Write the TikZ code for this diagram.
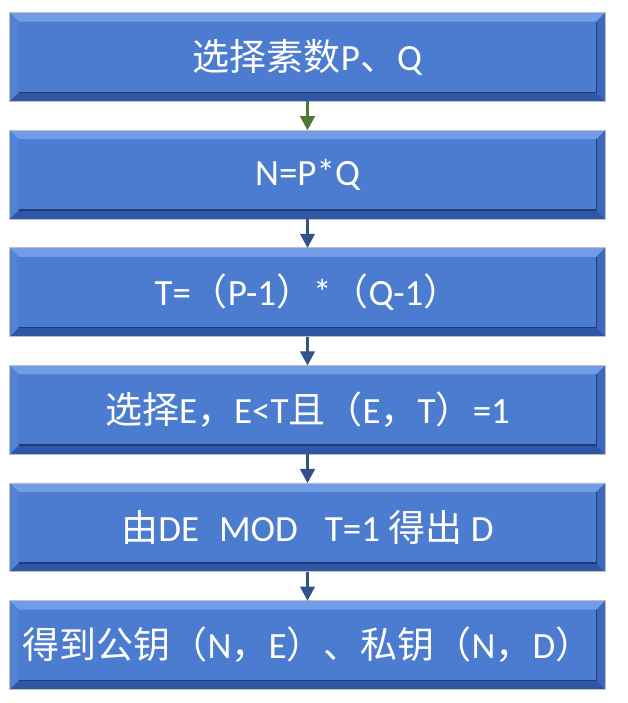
\documentclass[tikz,border=0pt]{standalone}
\usepackage{fontspec}
\setmainfont{Carlito}
\newfontfamily\cjk{Noto Sans CJK SC}
\usetikzlibrary{arrows.meta}
\newcommand{\zh}[1]{{\cjk #1}}

\definecolor{boxblue}{RGB}{76,124,208}
\definecolor{boxtop}{RGB}{112,156,232}
\definecolor{boxbottom}{RGB}{48,86,166}
\definecolor{boxleft}{RGB}{82,130,212}
\definecolor{boxright}{RGB}{62,104,188}
\definecolor{boxshade}{RGB}{34,58,118}
\definecolor{arrowgreen}{RGB}{112,173,71}
\definecolor{arrowblue}{RGB}{78,126,210}

\tikzset{stepbox/.style={minimum width=595pt, minimum height=88pt, inner sep=0pt,
    fill=boxblue, draw=black!25, line width=0.8pt, text=white,
    font=\fontsize{37}{40}\selectfont},
  flow/.style={line width=2.5pt, -{Triangle[width=15pt,length=14pt,line width=1pt]}}}

\begin{document}
\begin{tikzpicture}[x=1pt,y=1pt]

\useasboundingbox (0,0) rectangle (627,703);

\node[stepbox] (s1) at (307.5,646.0) {\zh{选择素数}P\zh{、}Q};
\node[stepbox] (s2) at (307.5,528.4) {N=P*Q};
\node[stepbox] (s3) at (307.5,410.8) {T=\zh{（}P-1\zh{）}*\zh{（}Q-1\zh{）}};
\node[stepbox] (s4) at (307.5,293.2) {\zh{选择}E\zh{，}E<T\zh{且（}E\zh{，}T\zh{）}=1};
\node[stepbox] (s5) at (307.5,175.6) {\zh{由}DE\hspace{20pt}MOD\hspace{27pt}T=1 \zh{得出} D};
\node[stepbox] (s6) at (307.5,58.0) {\zh{得到公钥（}N\zh{，}E\zh{）、私钥（}N\zh{，}D\zh{）}\hspace{12pt}};

% bevelled edges
\foreach \s in {s1,s2,s3,s4,s5,s6} {
    \fill[boxtop] (\s.north west) -- (\s.north east) -- ([shift={(-9,-9)}]\s.north east) -- ([shift={(9,-9)}]\s.north west) -- cycle;
    \fill[boxbottom] (\s.south west) -- (\s.south east) -- ([shift={(-9,9)}]\s.south east) -- ([shift={(9,9)}]\s.south west) -- cycle;
    \fill[boxleft] (\s.north west) -- ([shift={(9,-9)}]\s.north west) -- ([shift={(9,9)}]\s.south west) -- (\s.south west) -- cycle;
    \fill[boxright] (\s.north east) -- ([shift={(-9,-9)}]\s.north east) -- ([shift={(-9,9)}]\s.south east) -- (\s.south east) -- cycle;
    \draw[boxshade, line width=1.6pt] ([shift={(-9,-9)}]\s.north east) -- ([shift={(-9,9)}]\s.south east) -- ([shift={(9,9)}]\s.south west);
    \draw[black!25, line width=0.8pt] (\s.north west) rectangle (\s.south east);
}

\draw[flow, draw=arrowgreen!70!black, fill=arrowgreen] (s1.south) -- (s2.north);
\foreach \a/\b in {s2/s3,s3/s4,s4/s5,s5/s6}
    \draw[flow, draw=arrowblue!65!black, fill=arrowblue] (\a.south) -- (\b.north);

\end{tikzpicture}
\end{document}
